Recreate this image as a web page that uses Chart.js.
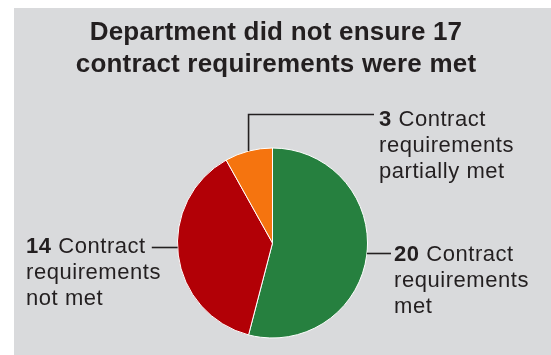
<!DOCTYPE html>
<html>
<head>
<meta charset="utf-8">
<script src="https://cdn.jsdelivr.net/npm/chart.js@4"></script>
<style>
  html, body { margin: 0; padding: 0; background: #ffffff; }
  #wrap { width: 551px; height: 355px; }
</style>
</head>
<body>
<div id="wrap"><canvas id="pieChart" width="551" height="355"></canvas></div>
<script>
// chart values
const categories = ['Contract requirements met', 'Contract requirements not met', 'Contract requirements partially met'];
const counts = [20, 14, 3];
const sliceColors = ['#26803f', '#b20006', '#f5740f'];
const titleLines = ['Department did not ensure 17', 'contract requirements were met'];
const labelLines = [
    ['Contract', 'requirements', 'met'],
    ['Contract', 'requirements', 'not met'],
    ['Contract', 'requirements', 'partially met']
];

const ink = '#231f20';

// grey panel + title drawn behind the pie
const panelPlugin = {
    id: 'panel',
    beforeDraw(chart) {
        const c = chart.ctx;
        c.save();
        c.fillStyle = '#d9dadc';
        c.fillRect(14, 8, chart.width - 14, chart.height - 8);
        c.fillStyle = ink;
        c.font = 'bold 26px "Liberation Sans", Arial, sans-serif';
        c.letterSpacing = '0.2px';
        c.textAlign = 'center';
        c.textBaseline = 'alphabetic';
        c.fillText(titleLines[0], 276, 40);
        c.fillText(titleLines[1], 276, 72);
        c.restore();
    }
};

// labels with leader lines
const calloutPlugin = {
    id: 'callouts',
    afterDraw(chart) {
        const c = chart.ctx;
        const arcs = chart.getDatasetMeta(0).data;
        const a0 = arcs[0];
        const cx = a0.x, cy = a0.y, r = a0.outerRadius;
        const lineH = 26;

        function label(i, x, y) {
            c.textAlign = 'left';
            c.textBaseline = 'alphabetic';
            c.font = 'bold 22px "Liberation Sans", Arial, sans-serif';
            const num = String(counts[i]);
            c.fillText(num, x, y);
            const w = c.measureText(num + ' ').width;
            c.font = '22px "Liberation Sans", Arial, sans-serif';
            c.fillText(labelLines[i][0], x + w, y);
            const firstW = w + c.measureText(labelLines[i][0]).width;
            for (let k = 1; k < labelLines[i].length; k++) {
                c.fillText(labelLines[i][k], x, y + lineH * k);
            }
            return firstW;
        }

        c.save();
        c.fillStyle = ink;
        c.strokeStyle = ink;
        c.lineWidth = 1.6;
        c.letterSpacing = '0.55px';

        // 20 met (right)
        label(0, 394, 261);
        let ly = 253.5;
        let ex = cx + Math.sqrt(r * r - (ly - cy) * (ly - cy));
        c.beginPath();
        c.moveTo(ex, ly);
        c.lineTo(391, ly);
        c.stroke();

        // 14 not met (left)
        const w1 = label(1, 26, 253);
        ly = 247.5;
        ex = cx - Math.sqrt(r * r - (ly - cy) * (ly - cy));
        c.beginPath();
        c.moveTo(26 + w1 + 6, ly);
        c.lineTo(ex, ly);
        c.stroke();

        // 3 partially met (top right), elbow from slice middle
        label(2, 379, 126);
        const a2 = arcs[2];
        const mid = (a2.startAngle + a2.endAngle) / 2;
        const px = cx + Math.cos(mid) * r;
        const py = cy + Math.sin(mid) * r;
        c.beginPath();
        c.moveTo(px, py);
        c.lineTo(px, 114.5);
        c.lineTo(374, 114.5);
        c.stroke();
        c.restore();
    }
};

const ctx = document.getElementById('pieChart').getContext('2d');
new Chart(ctx, {
    type: 'pie',
    data: {
        labels: categories,
        datasets: [{
            data: counts,
            backgroundColor: sliceColors,
            borderColor: '#ffffff',
            borderWidth: 1
        }]
    },
    options: {
        responsive: false,
        animation: false,
        layout: { padding: { left: 177, right: 183, top: 147.5, bottom: 16.5 } },
        plugins: {
            legend: { display: false },
            tooltip: { enabled: false },
            title: { display: false }
        }
    },
    plugins: [panelPlugin, calloutPlugin]
});
</script>
</body>
</html>
